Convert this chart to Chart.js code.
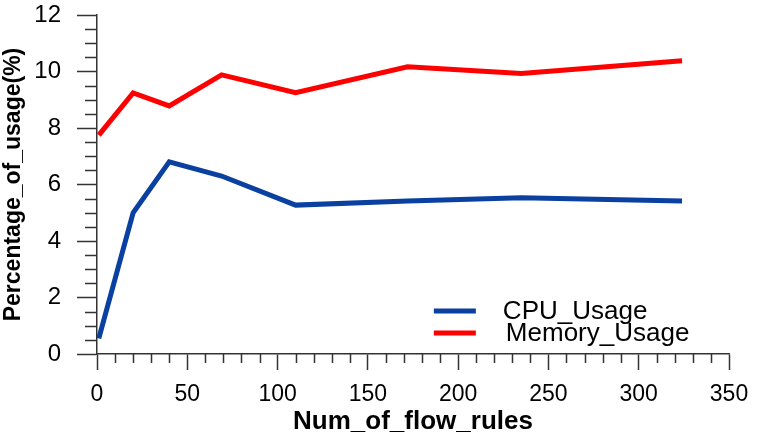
<!DOCTYPE html>
<html>
<head>
<meta charset="utf-8">
<script src="https://cdn.jsdelivr.net/npm/chart.js@4"></script>
<style>
  html, body { margin: 0; padding: 0; background: #fff; }
  #wrap { width: 766px; height: 437px; }
</style>
</head>
<body>
<div id="wrap"><canvas id="usageChart"></canvas></div>
<script>
// data
const flowRules = [1, 20, 40, 69, 110, 172, 235, 324]
const cpuUsage = [0.55, 5.0, 6.8, 6.3, 5.27, 5.42, 5.53, 5.42]
const memoryUsage = [7.75, 9.24, 8.78, 9.88, 9.25, 10.17, 9.93, 10.38]
const seriesNames = ['CPU_Usage', 'Memory_Usage']

const FONT = "'Liberation Sans', Arial, sans-serif"
const AXIS = '#333333'

function toPoints(ys) {
    return flowRules.map((x, i) => ({ x: x, y: ys[i] }))
}

// small ticks between the labelled ones
const minorTicks = {
    id: 'minorTicks',
    afterDraw(chart) {
        const ctx = chart.ctx
        const xs = chart.scales.x
        const ys = chart.scales.y
        const area = chart.chartArea
        ctx.save()
        ctx.strokeStyle = AXIS
        ctx.lineWidth = 1.5
        ctx.beginPath()
        for (let v = 0; v <= 12.001; v += 0.5) {
            if (Math.abs(v % 2) < 0.001) continue
            const py = Math.round(ys.getPixelForValue(v)) + 0.5
            ctx.moveTo(area.left, py)
            ctx.lineTo(area.left - 12, py)
        }
        for (let v = 0; v <= 350; v += 10) {
            if (v % 50 === 0) continue
            const px = Math.round(xs.getPixelForValue(v)) + 0.5
            ctx.moveTo(px, area.bottom)
            ctx.lineTo(px, area.bottom + 9)
        }
        ctx.stroke()
        ctx.restore()
    }
}

// legend sitting inside the plot, lower right
const insideLegend = {
    id: 'insideLegend',
    afterDraw(chart) {
        const ctx = chart.ctx
        const area = chart.chartArea
        const w = area.right - area.left
        const h = area.bottom - area.top
        const x0 = area.left + w * 0.533
        ctx.save()
        ctx.font = '26px ' + FONT
        ctx.textBaseline = 'middle'
        ctx.fillStyle = '#000'
        chart.data.datasets.forEach((ds, i) => {
            const y = area.top + h * (0.873 + i * 0.065)
            ctx.strokeStyle = ds.borderColor
            ctx.lineWidth = 5
            ctx.beginPath()
            ctx.moveTo(x0, y)
            ctx.lineTo(x0 + 42, y)
            ctx.stroke()
            ctx.fillText(ds.label, x0 + 69 + i * 3, y + 1)
        })
        ctx.restore()
    }
}

var usageChart = new Chart(
    document.getElementById('usageChart'),
    {
        type: 'line',

        data: {
            datasets: [
                {
                    label: seriesNames[0],
                    borderColor: '#0a40a0',
                    borderWidth: 5,
                    pointRadius: 0,
                    tension: 0,
                    data: toPoints(cpuUsage)
                },
                {
                    label: seriesNames[1],
                    borderColor: '#ff0000',
                    borderWidth: 5,
                    pointRadius: 0,
                    tension: 0,
                    data: toPoints(memoryUsage)
                }
            ]
        },

        options: {
            responsive: true,
            maintainAspectRatio: false,
            animation: false,
            layout: {
                padding: { top: 15, right: 37, bottom: 0, left: 0 }
            },
            plugins: {
                legend: { display: false },
                tooltip: { enabled: false }
            },
            scales: {
                x: {
                    type: 'linear',
                    min: 0,
                    max: 350,
                    afterFit: function (scale) {
                        scale.height = 83   // x axis at y = 354
                        scale.paddingLeft = 0
                        scale.paddingRight = 0
                    },
                    border: { display: true, color: AXIS, width: 1.5 },
                    grid: {
                        drawOnChartArea: false,
                        drawTicks: true,
                        tickLength: 16,
                        tickColor: AXIS,
                        tickWidth: 1.5
                    },
                    ticks: {
                        stepSize: 50,
                        color: '#000',
                        padding: 11,
                        maxRotation: 0,
                        font: { family: FONT, size: 23 }
                    },
                    title: {
                        display: true,
                        text: 'Num_of_flow_rules',
                        color: '#000',
                        padding: { top: 0, bottom: 2 },
                        font: { family: FONT, size: 26, weight: 'bold', lineHeight: 1.0 }
                    }
                },
                y: {
                    min: 0,
                    max: 12,
                    afterFit: function (scale) {
                        scale.width = 97   // axis sits where the picture has it
                        scale.paddingTop = 0
                        scale.paddingBottom = 0
                    },
                    border: { display: true, color: AXIS, width: 1.5 },
                    grid: {
                        drawOnChartArea: false,
                        drawTicks: true,
                        tickLength: 20,
                        tickColor: AXIS,
                        tickWidth: 1.5
                    },
                    ticks: {
                        stepSize: 2,
                        color: '#000',
                        padding: 16,
                        font: { family: FONT, size: 24 }
                    },
                    title: {
                        display: true,
                        text: 'Percentage_of_usage(%)',
                        color: '#000',
                        padding: { top: 0, bottom: 0 },
                        font: { family: FONT, size: 23, weight: 'bold' }
                    }
                }
            }
        },
        plugins: [minorTicks, insideLegend]
    }
);
</script>
</body>
</html>
